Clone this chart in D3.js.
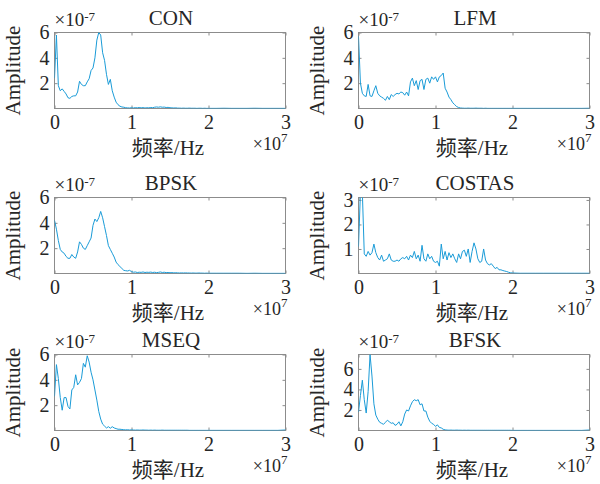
<!DOCTYPE html>
<html>
<head>
<meta charset="utf-8">
<script src="https://cdn.jsdelivr.net/npm/d3@7"></script>
<style>
  body { margin: 0; background: #fff; }
  text { font-family: 'Liberation Serif', 'Times New Roman', 'Noto Sans CJK SC', serif; fill: #262626; }
</style>
</head>
<body>
<script>
// frequency grid in units of 1e7 Hz
const freq = [
  0, 0.025, 0.05, 0.075, 0.1, 0.125, 0.15, 0.175, 0.2, 0.225,
  0.25, 0.275, 0.3, 0.325, 0.35, 0.375, 0.4, 0.425, 0.45, 0.475,
  0.5, 0.525, 0.55, 0.575, 0.6, 0.625, 0.65, 0.675, 0.7, 0.725,
  0.75, 0.775, 0.8, 0.825, 0.85, 0.875, 0.9, 0.925, 0.95, 0.975,
  1.0, 1.025, 1.05, 1.075, 1.1, 1.125, 1.15, 1.175, 1.2, 1.225,
  1.25, 1.275, 1.3, 1.325, 1.35, 1.375, 1.4, 1.425, 1.45, 1.475,
  1.5, 1.525, 1.55, 1.575, 1.6, 1.625, 1.65, 1.675, 1.7, 1.725,
  1.75, 1.775, 1.8, 1.825, 1.85, 1.875, 1.9, 1.925, 1.95, 1.975,
  2.0, 2.1, 2.2, 2.3, 2.4, 2.5, 2.6, 2.7, 2.8, 2.9,
  3.0
]

// amplitudes in units of 1e-7
const con = [
  2.4, 5.8, 1.8, 1.4, 1.55, 1.35, 1.15, 0.85, 0.8, 0.95,
  1.0, 1.0, 1.3, 2.15, 1.9, 1.8, 1.8, 2.1, 2.35, 3.0,
  3.2, 4.0, 5.4, 6.0, 5.8, 4.4, 3.8, 2.7, 1.9, 2.3,
  1.4, 0.9, 0.5, 0.3, 0.18, 0.12, 0.1, 0.06, 0.05, 0.04,
  0.06, 0.04, 0.07, 0.05, 0.08, 0.05, 0.07, 0.04, 0.06, 0.05,
  0.08, 0.06, 0.1, 0.12, 0.1, 0.13, 0.1, 0.11, 0.08, 0.09,
  0.06, 0.05, 0.04, 0.05, 0.03, 0.03, 0.02, 0.03, 0.02, 0.02,
  0.03, 0.02, 0.02, 0.02, 0.01, 0.02, 0.02, 0.01, 0.02, 0.01,
  0.01, 0.01, 0.02, 0.01, 0.01, 0.01, 0.02, 0.01, 0.01, 0.01,
  0.01
]
const lfm = [
  5.7, 2.0, 1.2, 1.0, 0.95, 1.9, 1.0, 0.95, 1.4, 1.8,
  1.2, 1.0, 0.9, 0.8, 0.65, 0.95, 0.7, 1.1, 0.95, 1.1,
  1.2, 1.15, 1.3, 1.25, 1.05, 1.3, 1.0, 2.1, 2.4, 1.8,
  2.2, 1.5, 2.2, 2.3, 1.5, 2.3, 2.4, 2.0, 2.5, 2.3,
  2.5, 2.1, 2.5, 2.6, 2.8, 1.6, 1.3, 0.9, 0.7, 0.45,
  0.3, 0.15, 0.08, 0.04, 0.03, 0.02, 0.02, 0.03, 0.02, 0.02,
  0.02, 0.03, 0.02, 0.02, 0.02, 0.01, 0.02, 0.01, 0.01, 0.01,
  0.01, 0.01, 0.01, 0.01, 0.01, 0.01, 0.01, 0.01, 0.01, 0.01,
  0.01, 0.01, 0.01, 0.01, 0.01, 0.01, 0.01, 0.01, 0.01, 0.01,
  0.02
]
const bpsk = [
  4.2, 3.5, 2.6, 1.9, 1.7, 1.6, 1.35, 1.2, 1.2, 1.5,
  1.3, 1.2, 1.7, 2.5, 2.3, 2.0, 1.9, 2.2, 2.5, 2.8,
  3.8, 4.3, 4.1, 4.4, 4.9, 4.4, 3.7, 3.0, 2.2, 1.9,
  1.6, 1.3, 0.9, 0.7, 0.55, 0.4, 0.25, 0.22, 0.2, 0.25,
  0.15, 0.1, 0.12, 0.08, 0.1, 0.09, 0.12, 0.08, 0.1, 0.09,
  0.11, 0.08, 0.1, 0.07, 0.09, 0.12, 0.08, 0.1, 0.07, 0.08,
  0.06, 0.07, 0.05, 0.06, 0.05, 0.04, 0.05, 0.04, 0.05, 0.04,
  0.04, 0.03, 0.04, 0.03, 0.03, 0.04, 0.03, 0.03, 0.02, 0.03,
  0.02, 0.02, 0.02, 0.02, 0.02, 0.01, 0.02, 0.01, 0.01, 0.01,
  0.01
]
const costas = [
  1.1, 3.3, 3.3, 0.8, 0.7, 0.9, 0.75, 0.85, 1.2, 0.85,
  0.65, 0.55, 0.75, 0.5, 0.55, 0.6, 0.8, 0.55, 0.5, 0.5,
  0.55, 0.5, 0.6, 0.65, 0.6, 0.7, 0.55, 0.75, 0.65, 0.9,
  0.6, 0.75, 0.5, 1.15, 0.6, 0.5, 0.8, 0.6, 0.7, 0.5,
  0.45, 0.5, 0.3, 1.2, 0.6, 0.9, 0.55, 0.85, 0.65, 0.8,
  0.6, 0.45, 0.8, 0.6, 0.9, 0.95, 0.7, 1.0, 0.45, 0.9,
  1.25, 1.0, 0.6, 0.45, 0.5, 1.0, 0.55, 0.4, 0.35, 0.4,
  0.3, 0.2, 0.25, 0.15, 0.15, 0.12, 0.1, 0.08, 0.05, 0.03,
  0.02, 0.01, 0.01, 0.01, 0.01, 0.01, 0.01, 0.01, 0.01, 0.01,
  0.01
]
const mseq = [
  2.7, 5.2, 4.1, 2.6, 1.6, 2.6, 2.6, 1.9, 1.7, 3.2,
  3.4, 4.4, 3.6, 3.8, 4.1, 5.3, 5.0, 5.9, 5.4, 4.6,
  4.0, 3.2, 2.4, 1.5, 0.9, 0.5, 0.35, 0.2, 0.3, 0.18,
  0.3, 0.2, 0.15, 0.1, 0.1, 0.08, 0.06, 0.05, 0.06, 0.04,
  0.05, 0.04, 0.03, 0.04, 0.03, 0.03, 0.04, 0.03, 0.03, 0.02,
  0.03, 0.02, 0.03, 0.02, 0.02, 0.02, 0.03, 0.02, 0.02, 0.02,
  0.02, 0.02, 0.02, 0.02, 0.02, 0.02, 0.02, 0.02, 0.02, 0.02,
  0.01, 0.01, 0.01, 0.01, 0.01, 0.01, 0.01, 0.01, 0.01, 0.01,
  0.01, 0.01, 0.01, 0.01, 0.01, 0.01, 0.01, 0.01, 0.01, 0.01,
  0.04
]
const bfsk = [
  1.8, 3.4, 4.9, 3.0, 1.7, 3.8, 7.4, 5.3, 2.6, 1.5,
  1.1, 0.8, 0.7, 0.6, 0.8, 1.0, 0.85, 0.7, 0.75, 0.5,
  0.6, 0.85, 0.45, 0.85, 1.6, 2.0, 1.9, 2.4, 2.8, 3.0,
  2.9, 3.0, 2.5, 2.6, 1.9, 1.9, 1.3, 0.9, 0.7, 0.6,
  0.4, 0.55, 0.3, 0.25, 0.12, 0.06, 0.04, 0.03, 0.04, 0.03,
  0.03, 0.04, 0.03, 0.03, 0.02, 0.03, 0.02, 0.03, 0.02, 0.02,
  0.02, 0.02, 0.02, 0.02, 0.02, 0.02, 0.02, 0.02, 0.02, 0.02,
  0.02, 0.02, 0.02, 0.02, 0.02, 0.02, 0.02, 0.02, 0.02, 0.02,
  0.01, 0.01, 0.01, 0.01, 0.01, 0.01, 0.01, 0.01, 0.01, 0.01,
  0.05
]

const titles = ['CON', 'LFM', 'BPSK', 'COSTAS', 'MSEQ', 'BFSK']
const yMax = [6, 6, 6, 3.1, 6, 7.4]
const yTicks = [[2, 4, 6], [2, 4, 6], [2, 4, 6], [1, 2, 3], [2, 4, 6], [2, 4, 6]]
const xTicks = [0, 1, 2, 3]

const series = [con, lfm, bpsk, costas, mseq, bfsk]

const w = 600
const h = 484
const lefts = [54.5, 358.5]
const tops = [32.5, 197.5, 354.5]
const pw = 231
const ph = 76
const boxColor = '#8c8c8c'
const lineColor = '#1a9bd7'

const svg = d3.select('body').append('svg')
  .attr('width', w)
  .attr('height', h)

series.forEach((vals, i) => {
  const left = lefts[i % 2]
  const top = tops[Math.floor(i / 2)]

  const x = d3.scaleLinear().domain([0, 3]).range([0, pw])
  const y = d3.scaleLinear().domain([0, yMax[i]]).range([ph, 0])

  const g = svg.append('g').attr('transform', `translate(${left},${top})`)

  g.append('clipPath').attr('id', 'clip' + i)
    .append('rect').attr('width', pw).attr('height', ph)

  // axes, ticks point inward like matlab
  const xa = g.append('g').attr('transform', `translate(0,${ph})`)
    .call(d3.axisBottom(x).tickValues(xTicks).tickSize(-3).tickSizeOuter(0).tickPadding(6).tickFormat(d3.format('d')))
  const ya = g.append('g')
    .call(d3.axisLeft(y).tickValues(yTicks[i]).tickSize(-3).tickSizeOuter(0).tickPadding(5).tickFormat(d3.format('d')))
  const xt = g.append('g')
    .call(d3.axisTop(x).tickValues(xTicks).tickSize(-3).tickSizeOuter(0).tickFormat(''))
  const yr = g.append('g').attr('transform', `translate(${pw},0)`)
    .call(d3.axisRight(y).tickValues(yTicks[i]).tickSize(-3).tickSizeOuter(0).tickFormat(''))

  for (const a of [xa, ya, xt, yr]) {
    a.select('.domain').remove()
    a.selectAll('line').attr('stroke', boxColor)
    a.selectAll('text')
      .style('font-family', "'Liberation Serif', serif")
      .style('font-size', '20px')
      .attr('fill', '#262626')
  }

  g.append('rect')
    .attr('width', pw)
    .attr('height', ph)
    .attr('fill', 'none')
    .attr('stroke', boxColor)
    .attr('stroke-width', 1)

  const lineFn = d3.line()
    .x((d, j) => x(freq[j]))
    .y(d => y(d))

  g.append('path')
    .attr('d', lineFn(vals))
    .attr('clip-path', `url(#clip${i})`)
    .attr('fill', 'none')
    .attr('stroke', lineColor)
    .attr('stroke-width', 1)

  // title
  g.append('text')
    .attr('x', pw / 2 + 1)
    .attr('y', -8)
    .attr('text-anchor', 'middle')
    .style('font-size', '21px')
    .text(titles[i])

  // y exponent
  const ye = g.append('text')
    .attr('x', 0)
    .attr('y', -7)
    .style('font-size', '19px')
  ye.append('tspan').text('×10')
  ye.append('tspan').attr('dy', -5).style('font-size', '13px').text('-7')

  // x exponent
  const xe = g.append('text')
    .attr('x', pw + 2)
    .attr('y', ph + 41)
    .attr('text-anchor', 'end')
    .style('font-size', '18px')
  xe.append('tspan').text('×10')
  xe.append('tspan').attr('dy', -8).style('font-size', '13px').text('7')

  // axis labels
  g.append('text')
    .attr('x', pw / 2 - 2)
    .attr('y', ph + 46)
    .attr('text-anchor', 'middle')
    .style('font-size', '21px')
    .text('频率/Hz')

  g.append('text')
    .attr('transform', `translate(-35,${ph / 2}) rotate(-90)`)
    .attr('text-anchor', 'middle')
    .style('font-size', '21px')
    .text('Amplitude')
})
</script>
</body>
</html>
